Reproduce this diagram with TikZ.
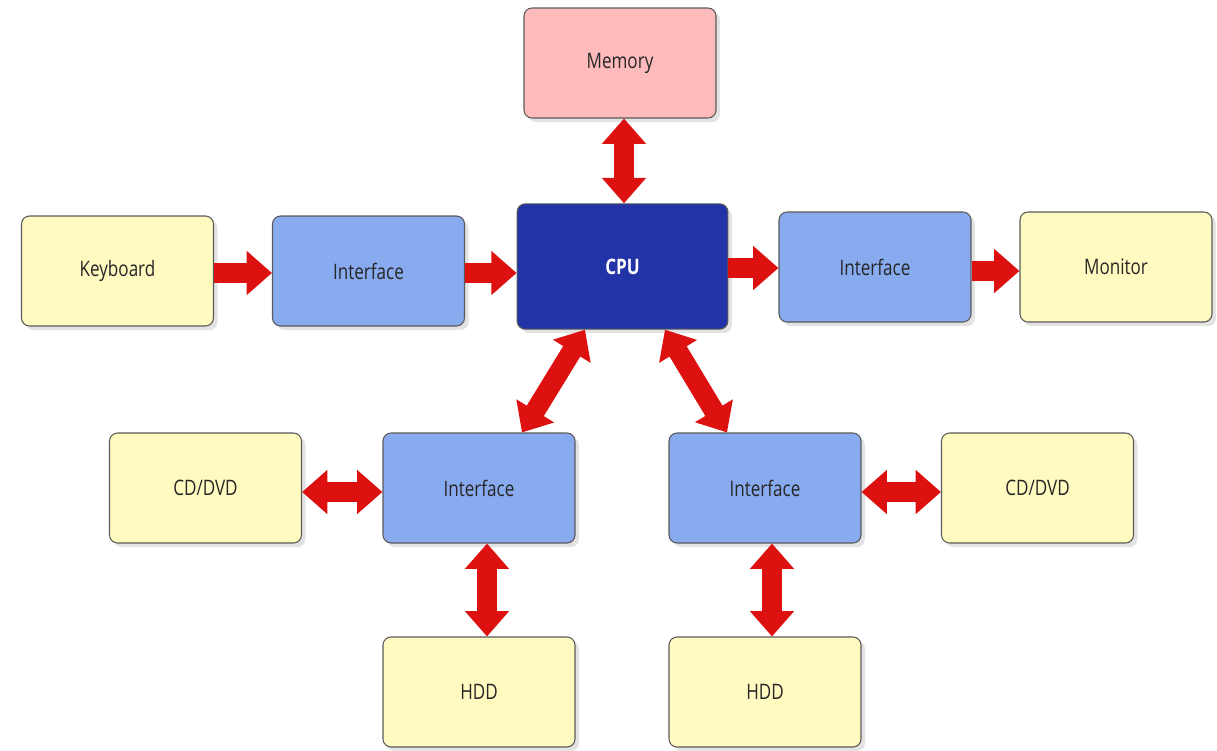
\documentclass[tikz,border=0pt]{standalone}
\usepackage{fontspec}
\setmainfont[FakeStretch=0.8]{Open Sans}
\usetikzlibrary{arrows.meta,shadows}
\definecolor{boxyellow}{RGB}{255,250,192}
\definecolor{boxblue}{RGB}{136,170,238}
\definecolor{cpublue}{RGB}{34,51,168}
\definecolor{mempink}{RGB}{255,187,187}
\definecolor{arrred}{RGB}{222,17,17}
\definecolor{edgegray}{RGB}{90,90,90}
\tikzset{
  blk/.style={draw=edgegray, line width=0.8pt, rounded corners=6pt, minimum width=144pt, minimum height=82.5pt,
    font=\fontsize{16}{19}\selectfont, text=black!85,
    drop shadow={opacity=0.22, shadow xshift=3pt, shadow yshift=-3pt}},
  dev/.style={blk, fill=boxyellow},
  intf/.style={blk, fill=boxblue},
  mem/.style={blk, fill=mempink},
  cpu/.style={blk, fill=cpublue, minimum width=158pt, minimum height=94pt, text=white, font=\fontsize{16}{19}\selectfont\bfseries},
  fat/.style={draw=arrred, line width=15pt, -{Triangle[length=19pt,width=32pt]}, shorten >=0pt},
  fatboth/.style={draw=arrred, line width=15pt, {Triangle[length=19pt,width=32pt]}-{Triangle[length=19pt,width=32pt]}},
}
\begin{document}
\begin{tikzpicture}[x=0.75pt,y=-0.75pt]
\useasboundingbox (0,0) rectangle (1217,750);
\node[mem] (mem) at (620,63) {Memory};
\node[dev] (kbd) at (117.5,271) {Keyboard};
\node[intf] (if1) at (368.5,271) {Interface};
\node[cpu] (cpu) at (622.5,266.5) {CPU};
\node[intf] (if2) at (875,267) {Interface};
\node[dev] (mon) at (1116,267) {Monitor};
\node[dev] (cdl) at (205.5,488) {CD/DVD};
\node[intf] (if3) at (479,488) {Interface};
\node[intf] (if4) at (765,488) {Interface};
\node[dev] (cdr) at (1037.5,488) {CD/DVD};
\node[dev] (hddl) at (479,692) {HDD};
\node[dev] (hddr) at (765,692) {HDD};

\draw[fat] (kbd.east |- 0,273) -- (if1.west |- 0,273);
\draw[fat] (if1.east |- 0,273) -- (cpu.west |- 0,273);
\draw[fat] (cpu.east |- 0,268) -- (if2.west |- 0,268);
\draw[fat] (if2.east |- 0,271) -- (mon.west |- 0,271);
\draw[fatboth] (mem.south -| 624,0) -- (cpu.north -| 624,0);
\coordinate (c1) at (585,330);
\coordinate (c2) at (665,330);
\coordinate (i3) at (522,432);
\coordinate (i4) at (727,432);
\draw[fatboth] (cpu.south -| c1) -- (if3.north -| i3);
\draw[fatboth] (cpu.south -| c2) -- (if4.north -| i4);
\draw[fatboth] (cdl.east |- 0,492) -- (if3.west |- 0,492);
\draw[fatboth] (if4.east |- 0,492) -- (cdr.west |- 0,492);
\draw[fatboth] (if3.south -| 487,0) -- (hddl.north -| 487,0);
\draw[fatboth] (if4.south -| 772,0) -- (hddr.north -| 772,0);
\end{tikzpicture}
\end{document}
